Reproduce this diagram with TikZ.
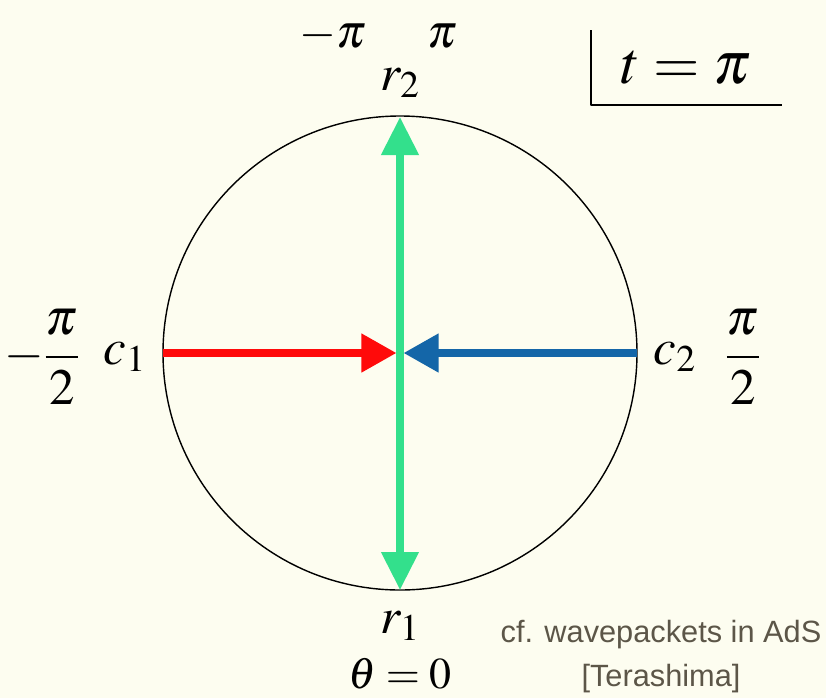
\documentclass[tikz,border=0pt]{standalone}
\usepackage{amsmath}
\usepackage{mathptmx}
\usepackage{fontspec}
\newfontfamily\capfont{Liberation Sans}
\usetikzlibrary{arrows.meta}
\definecolor{bgcream}{HTML}{FDFDF0}
\definecolor{arrred}{HTML}{FF0A0A}
\definecolor{arrblue}{HTML}{1466A8}
\definecolor{arrgreen}{HTML}{33E08C}
\definecolor{capgray}{HTML}{5C5648}
\begin{document}
\begin{tikzpicture}[x=0.02cm,y=-0.02cm,line join=round,
		lab/.style={font=\fontsize{29}{34}\selectfont,inner sep=0pt},
		flow/.style={line width=0.15cm,-{Triangle[length=0.7cm,width=0.74cm]}}]
			\fill[bgcream] (0,0) rectangle (826,698);
			\useasboundingbox (0,0) rectangle (826,698);
			% circle and its points
			\coordinate (O) at (400,353);
			\coordinate (c1) at (163,353);
			\coordinate (c2) at (637,353);
			\coordinate (r1) at (400,590);
			\coordinate (r2) at (400,117);
			\draw[line width=0.8pt] (O) circle (237);
			% arrows
			\draw[flow,arrgreen,{Triangle[length=0.76cm,width=0.72cm]}-{Triangle[length=0.76cm,width=0.72cm]}] (r1) -- (r2);
			\draw[flow,arrred,shorten >=2] (c1) -- (O);
			\draw[flow,arrblue,shorten >=2] (c2) -- (O);
			% labels
			\node[lab,font=\fontsize{27}{32}\selectfont] (mpi) at (333,36) {$-\pi$};
			\node[lab,font=\fontsize{27}{32}\selectfont] (ppi) at (442,36) {$\pi$};
			\node[lab] (lr2) at (400,83) {$r_2$};
			\node[lab] (lr1) at (400,626) {$r_1$};
			\node[lab,font=\fontsize{25}{30}\selectfont] (th) at (400,674) {$\theta=0$};
			\node[lab] (lc1) at (125,357) {$c_1$};
			\node[lab] (lc2) at (675,357) {$c_2$};
			\node[lab] (mhalf) at (42,357) {$-\dfrac{\pi}{2}$};
			\node[lab] (phalf) at (743,357) {$\dfrac{\pi}{2}$};
			% time box
			\draw[line width=1pt] (591,30) -- (591,105) -- (782,105);
			\node[font=\fontsize{34}{40}\selectfont] (time) at (686,68) {$t=\pi$};
			% reference
			\node[font=\capfont\fontsize{17.5}{21}\selectfont,text=capgray,align=center] (cf) at (661,657) {cf. wavepackets in AdS\\[4pt][Terashima]};
	\end{tikzpicture}
\end{document}
